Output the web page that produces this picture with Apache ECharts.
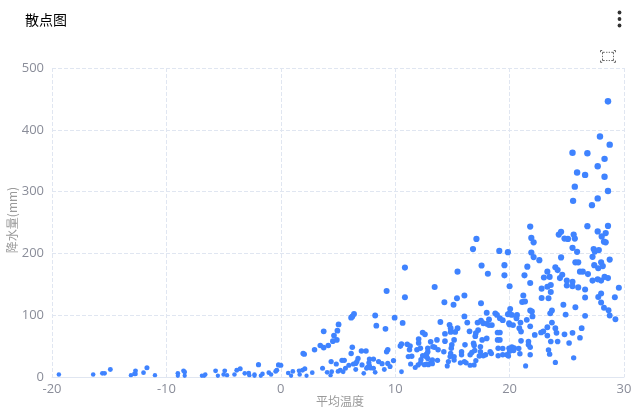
<!DOCTYPE html>
<html>
<head>
<meta charset="utf-8">
<style>
  html, body { margin: 0; padding: 0; background: #fff; }
  #chart { width: 639px; height: 411px; }
</style>
<script src="https://cdn.jsdelivr.net/npm/echarts@6/dist/echarts.min.js"></script>
</head>
<body>
<div id="chart"></div>
<script>
// [平均温度, 降水量]，从图上读取的估计值
const coldPoints = [
  [-19.4,4],[-16.4,4],[-15.6,6],[-15.4,6],[-14.9,12],[-13.1,3],[-12.8,5],[-12.7,10],[-12.7,5],[-12,7],[-11.7,15],[-11,3],
  [-9,6],[-9,2],[-8.5,10],[-8.4,8],[-8.4,2],[-6.9,2],[-6.7,2],[-6.6,4],[-5.7,10],[-5.5,2],[-4.9,10],[-5,4],[-4.7,3],
  [-4.05,4],[-3.85,11],[-3.55,13.5],[-3.15,6],[-2.8,6.5],[-2.75,3],[-2.3,4],[-2.3,2],[-1.95,20],[-1.75,2],[-1.6,5],
  [-1.05,7],[-0.85,4],[-0.45,9],[-0.35,11],[-0.2,19.5],[0,19]
];
const coolPoints = [
  [0.65,6.5],[0.9,2],[1.05,9],[1.6,10],[1.65,4],[1.9,11],[2.1,13.5],[2.25,2],[2.75,7],[1.95,38],[2.05,37],[2.95,44],
  [3.45,51],[3.75,47.5],[4.15,51],[3.75,74],[4.55,58],[4.9,60],[4.65,67],[4.95,75],[5.05,85],[6.15,96],[6.25,98],[6.4,102],
  [8.25,99.5],[8.35,83],[9.15,78],[9.95,96],[10.65,87.5],[10.85,129],[10.85,177],[9.25,139],
  [3.65,14],[4.05,7.5],[4.45,8.5],[4.35,3],[4.4,25],[4.85,21],[5,9],[5.2,11],[5.35,27],[5.55,27],[5.45,8.5],[5.65,14],
  [5.95,19],[6.15,38],[6.25,48],[6.35,21],[6.55,22],[6.75,30],[6.55,12],[6.65,25],[7.05,42],[7.45,42],[7.1,19.5],[7.25,6],
  [7.5,14],[7.6,16],[7.75,29],[7.7,23],[7.75,18],[7.85,14.5],[8.1,29],[8.1,14],[8.25,7.5],[8.55,25],[8.85,21.5],[9.05,12],
  [9.25,41],[9.35,44],[9.35,22],[9.55,17],[9.85,26.5]
];
const mildPoints = [
  [10.55,8.5],[10.45,50],[10.55,53.5],[11.05,53],[11.3,50],[11.25,44],[11.15,33],[11.45,33.5],[11.35,21],[11.75,15.5],
  [12,19.5],[12.2,22.5],[12.25,28],[11.9,44],[12.2,46.5],[12.05,55],[12.05,61.5],[12.4,72],[12.6,69],[12.7,36],[12.9,20],
  [13.1,57],[13.65,60],[14.35,58],[14.35,70],[14.75,84.5],[14.85,79],[14.85,73],[15.45,79],[15.25,73],[13.95,89],[14.3,121],
  [15.1,117],[15.4,127.5],[16.05,132],[16.05,98],[16.3,88],[16.5,74],[17.2,88],[17.5,119.5],[17.5,91],[18,104],[18.2,93],
  [17.7,87],[18,86],[18.2,84],[18.45,84],[18.75,103],[18.9,100.5],[19.15,95],[19.4,92],[19.95,87],[18.95,72],[18.95,60],
  [14.95,52],[15.15,60],[14.9,46.5],[14.85,38],[15.15,33],[14.8,33],[14.65,25],[14.55,18],[15.15,27.5],[13.75,44],[13.45,48],
  [13.3,49],[12.85,46.5],[12.85,41],[12.75,37],[12.4,34.5],[12.7,33],[12.85,30],[13.25,27.5],[13.1,23],[12.75,21],[12.55,20],
  [15.8,41],[15.8,36],[16.1,52],[16.55,36],[16.7,39.5],[16.85,54.5],[16.9,51],[17,66],[17.05,71],[17.25,76],[17.6,60],[18,62.5],
  [17.45,49],[16.95,43],[17.45,41],[15.7,23],[16.05,25],[16.2,23],[16.55,19],[16.9,19.5],[17.05,26.5],[17.35,34],[17.7,34.5],
  [17.9,36],[18.3,41],[18.4,38],[19,46.5],[19,34.5],[19.95,46.5],[19.9,34],
  [17.1,223.5],[16.8,207],[19.1,204],[19.85,202],[17.55,180.5],[19.55,181],[18.1,167],[19.55,164.5],[15.45,170.5],[13.45,145.5],
  [14.25,41],[13.7,27],[13.25,21.5]
];
const warmPoints = [
  [20,147],[21.8,243.5],[21.9,225],[22.1,218],[21.9,201.5],[22.1,194],[22.6,189],[21.55,178.5],[21.3,164.5],[21.8,152],[21.2,132],
  [21.1,121.5],[21.35,122],[20.05,110],[20,103],[19.85,101.5],[20.2,100.5],[20.65,100.5],[20.6,95],[20.95,88],[21.5,92.5],[21.8,107.5],
  [21.95,106],[22,98],[20,85],[20.3,84],[20.85,79],[21,73.5],[21.8,82],[21,58.5],[21.65,57.5],[21.65,52],[21.8,48],[20.2,48.5],
  [20.4,47],[20.8,46],[20,41.5],[19.75,36],[20.35,43],[20.9,37.5],[21.8,36],[21.4,18],[19.4,46],[19.4,36],[19.15,60],[19.15,72],
  [22.2,68],[22.75,72],[22.95,74],[23.3,80.5],[23.3,67],[23.7,88],[24,79],[24.1,71.5],[23.6,57.5],[24.2,57.5],[23.4,43.5],[23.5,37],
  [24,23.5],[24.8,69],[25.5,71.5],[25.2,55],[26.15,63.5],[26.3,79],[25.6,31],[23.55,103],[23.7,107.5],[24.9,101],[24.7,117],[25.75,113],
  [26.6,99],[26.6,128.5],[26.6,141.5],[22.8,128],[23.4,127.5],[23.6,137.5],[22.8,143],[23.3,146],[23.6,149],[23,161],[23.3,170.5],
  [23.5,162],[24,177.5],[24.2,173],[24.4,160],[24.6,165.5],[24.5,193.5],[25,156],[25,148],[25.5,154],[25.5,147],[26,145],[24.3,230.5],
  [24.5,235],[24.8,224],[25.1,223.5],[25.6,230.5],[25.7,224],[25.5,209],[25.9,202.5],[25.75,185.5],[26,185.5],[26.15,170.5],[26.4,170.5],
  [26.85,166.5],[26.8,244],[27.7,235.5],[28.05,227.5],[28.4,233],[28.25,219],[28.6,244.5],[28.4,218],[27.35,207],[27.45,203],[27.8,205.5],
  [27.25,194.5],[27.4,181],[28,185.5],[28.15,179.5],[27.75,176],[28.75,190],[27.25,156],[27.7,158],[28,156],[28.3,162],[28.6,160],
  [27.75,129.5],[28,135],[28,120.5],[28.25,112],[28.65,108],[28.75,99.5],[29.25,93.5],[29.2,129],[29.55,144.5]
];
const wetPoints = [
  [27.9,389],[28.75,376],[25.5,363],[26.8,362],[28.3,353],[27.7,341],[25.9,331],[26.6,327],[28.3,324],[25.7,308],[28.6,301],
  [27.7,289],[25.55,285],[27.2,278],[28.6,446]
];
const allPoints = [...coldPoints, ...coolPoints, ...mildPoints, ...warmPoints, ...wetPoints];

const chartFont = '"Open Sans", "Noto Sans CJK SC", sans-serif';
const myChart = echarts.init(document.getElementById('chart'));
myChart.setOption({
  animation: false,
  title: {
    text: '散点图',
    left: 20,
    top: 8,
    textStyle: { color: '#000', fontSize: 14, fontWeight: 'normal', fontFamily: '"Noto Sans CJK SC", sans-serif' }
  },
  toolbox: {
    right: 6,
    top: 33,
    itemSize: 15,
    iconStyle: { borderColor: '#666' },
    feature: { brush: { type: ['rect'], title: { rect: '' } } }
  },
  brush: { toolbox: ['rect'], xAxisIndex: 0 },
  graphic: [
    { type: 'circle', shape: { cx: 619.5, cy: 12.5, r: 1.9 }, style: { fill: '#333' } },
    { type: 'circle', shape: { cx: 619.5, cy: 19, r: 1.9 }, style: { fill: '#333' } },
    { type: 'circle', shape: { cx: 619.5, cy: 25.5, r: 1.9 }, style: { fill: '#333' } }
  ],
  grid: { left: 52, right: 15, top: 68, bottom: 34, outerBoundsMode: 'none' },
  xAxis: {
    type: 'value',
    min: -20,
    max: 30,
    interval: 10,
    name: '平均温度',
    nameLocation: 'middle',
    nameGap: 18,
    nameMoveOverlap: false,
    nameTextStyle: { color: '#9a9a9a', fontSize: 12, padding: [0, 0, 0, 4], fontFamily: '"Noto Sans CJK SC", sans-serif' },
    axisLine: { show: true, lineStyle: { color: '#e0e6f1' } },
    axisTick: { show: false },
    axisLabel: { color: '#8a8d99', fontSize: 13, margin: 6, fontFamily: chartFont },
    splitLine: { show: true, lineStyle: { color: '#e0e6f1', type: 'dashed' } }
  },
  yAxis: {
    type: 'value',
    min: 0,
    max: 500,
    interval: 100,
    name: '降水量(mm)',
    nameLocation: 'middle',
    nameGap: 34,
    nameMoveOverlap: false,
    nameTextStyle: { color: '#9a9a9a', fontSize: 12, padding: [0, 0, 0, 5], fontFamily: '"Noto Sans CJK SC", sans-serif' },
    axisLine: { show: false },
    axisTick: { show: false },
    axisLabel: { color: '#8a8d99', fontSize: 13, margin: 8, fontFamily: chartFont },
    splitLine: { show: true, lineStyle: { color: '#e0e6f1', type: 'dashed' } }
  },
  series: [{
    type: 'scatter',
    data: allPoints,
    symbolSize: function (val) {
      // 点的大小随降水量略微变大
      return 3.8 + 0.45 * Math.log(1 + val[1]);
    },
    itemStyle: { color: '#3f83ff', opacity: 1 }
  }]
});
</script>
</body>
</html>
